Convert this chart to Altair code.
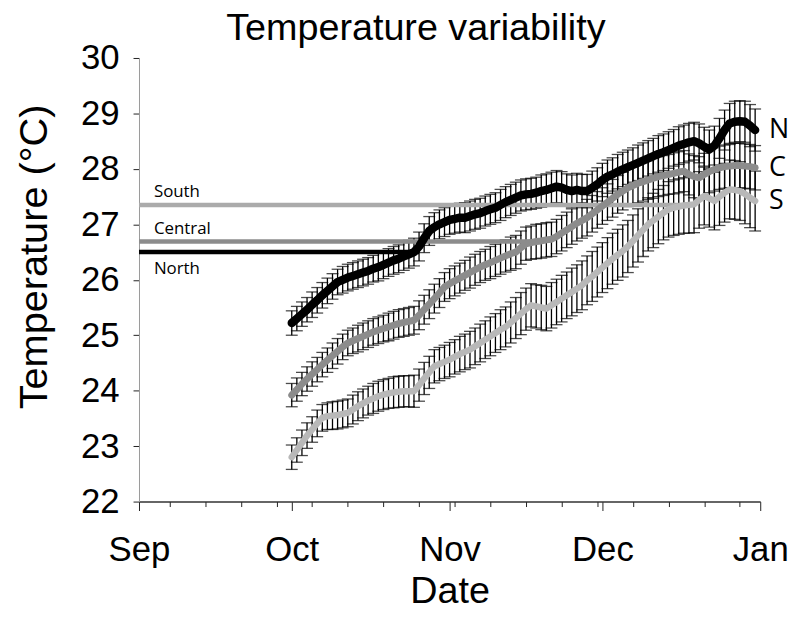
import altair as alt
import pandas as pd

# ---------------- data ----------------
dates = pd.date_range("2006-10-01", "2006-12-31", freq="D").strftime("%Y-%m-%d").tolist()

north_oct = [25.22, 25.30, 25.38, 25.46, 25.55, 25.63, 25.72, 25.80, 25.88, 25.96,
             26.00, 26.04, 26.07, 26.10, 26.13, 26.16, 26.20, 26.23, 26.27, 26.31,
             26.35, 26.38, 26.42, 26.46, 26.50, 26.60, 26.75, 26.88, 26.95, 27.00, 27.04]
north_nov = [27.08, 27.10, 27.12, 27.12, 27.15, 27.18, 27.20, 27.24, 27.27, 27.30,
             27.35, 27.40, 27.44, 27.48, 27.52, 27.54, 27.55, 27.57, 27.60, 27.62,
             27.65, 27.68, 27.66, 27.62, 27.60, 27.62, 27.60, 27.60, 27.66, 27.72]
north_dec = [27.80, 27.86, 27.90, 27.95, 27.99, 28.03, 28.07, 28.11, 28.15, 28.19,
             28.23, 28.27, 28.30, 28.34, 28.38, 28.42, 28.45, 28.48, 28.50, 28.46,
             28.40, 28.35, 28.42, 28.55, 28.70, 28.82, 28.85, 28.86, 28.85, 28.78, 28.70]

central_oct = [23.92, 24.02, 24.12, 24.21, 24.30, 24.38, 24.47, 24.55, 24.63, 24.71,
               24.79, 24.86, 24.90, 24.94, 24.98, 25.02, 25.06, 25.09, 25.12, 25.15,
               25.18, 25.21, 25.23, 25.25, 25.27, 25.36, 25.46, 25.56, 25.66, 25.76, 25.87]
central_nov = [25.93, 25.98, 26.03, 26.08, 26.13, 26.18, 26.23, 26.27, 26.31, 26.35,
               26.39, 26.43, 26.47, 26.50, 26.58, 26.65, 26.67, 26.69, 26.70, 26.72,
               26.73, 26.78, 26.84, 26.90, 26.96, 27.02, 27.07, 27.12, 27.19, 27.26]
central_dec = [27.33, 27.40, 27.47, 27.54, 27.60, 27.66, 27.70, 27.74, 27.77, 27.80,
               27.83, 27.86, 27.88, 27.90, 27.92, 27.94, 27.96, 27.90, 27.86, 27.84,
               27.90, 27.95, 27.99, 28.02, 28.04, 28.05, 28.06, 28.06, 28.05, 28.04, 28.02]

south_oct = [22.80, 22.93, 23.06, 23.19, 23.30, 23.41, 23.51, 23.54, 23.55, 23.56,
             23.58, 23.60, 23.66, 23.72, 23.77, 23.82, 23.86, 23.90, 23.93, 23.95,
             23.97, 23.98, 23.99, 23.99, 23.99, 24.10, 24.22, 24.33, 24.44, 24.48, 24.52]
south_nov = [24.56, 24.61, 24.66, 24.70, 24.74, 24.80, 24.86, 24.92, 24.98, 25.04,
             25.10, 25.15, 25.23, 25.31, 25.39, 25.47, 25.54, 25.52, 25.50, 25.48,
             25.54, 25.60, 25.66, 25.72, 25.78, 25.84, 25.90, 25.99, 26.06, 26.14]
south_dec = [26.22, 26.30, 26.38, 26.45, 26.52, 26.60, 26.70, 26.80, 26.90, 27.00,
             27.07, 27.14, 27.21, 27.27, 27.30, 27.32, 27.34, 27.35, 27.36, 27.44,
             27.51, 27.47, 27.42, 27.50, 27.57, 27.63, 27.62, 27.60, 27.55, 27.48, 27.42]

north_err = [0.22, 0.22, 0.22, 0.22, 0.23, 0.23, 0.23, 0.23, 0.23, 0.23, 0.24, 0.24, 0.24, 0.24, 0.24, 0.24,
             0.24, 0.25, 0.25, 0.25, 0.25, 0.25, 0.25, 0.25, 0.25, 0.26, 0.26, 0.26, 0.26, 0.26, 0.26,
             0.26, 0.26, 0.26, 0.27, 0.27, 0.27, 0.27, 0.27, 0.27, 0.27, 0.28, 0.28, 0.28, 0.28, 0.28,
             0.28, 0.28, 0.28, 0.29, 0.29, 0.29, 0.29, 0.29, 0.29, 0.29, 0.30, 0.30, 0.30, 0.30, 0.30,
             0.30, 0.30, 0.30, 0.31, 0.31, 0.31, 0.31, 0.32, 0.32, 0.32, 0.32, 0.33, 0.33, 0.33, 0.33,
             0.34, 0.34, 0.34, 0.34, 0.35, 0.35, 0.35, 0.35, 0.36, 0.36, 0.36, 0.37, 0.37, 0.37, 0.38, 0.38]
central_err = [0.21, 0.21, 0.21, 0.22, 0.22, 0.22, 0.22, 0.22, 0.23, 0.23, 0.23, 0.23, 0.23, 0.24, 0.24, 0.24,
               0.24, 0.24, 0.24, 0.25, 0.25, 0.25, 0.25, 0.25, 0.25, 0.26, 0.26, 0.26, 0.26, 0.26, 0.26,
               0.27, 0.27, 0.27, 0.27, 0.28, 0.28, 0.28, 0.28, 0.29, 0.29, 0.29, 0.29, 0.30, 0.30, 0.30,
               0.30, 0.30, 0.31, 0.31, 0.31, 0.31, 0.31, 0.32, 0.32, 0.32, 0.32, 0.32, 0.33, 0.33, 0.33,
               0.33, 0.33, 0.34, 0.34, 0.34, 0.34, 0.35, 0.35, 0.35, 0.35, 0.36, 0.36, 0.36, 0.36, 0.37,
               0.37, 0.37, 0.37, 0.38, 0.38, 0.38, 0.38, 0.39, 0.39, 0.39, 0.39, 0.40, 0.40, 0.40, 0.40, 0.40]
south_err = [0.22, 0.22, 0.23, 0.23, 0.23, 0.24, 0.24, 0.24, 0.25, 0.25, 0.25, 0.25, 0.26, 0.26, 0.26, 0.26,
             0.27, 0.27, 0.27, 0.27, 0.28, 0.28, 0.28, 0.28, 0.29, 0.29, 0.29, 0.29, 0.30, 0.30, 0.30,
             0.31, 0.31, 0.32, 0.32, 0.33, 0.33, 0.34, 0.34, 0.35, 0.35, 0.36, 0.36, 0.37, 0.37, 0.38,
             0.38, 0.39, 0.39, 0.40, 0.40, 0.41, 0.41, 0.42, 0.42, 0.43, 0.43, 0.44, 0.44, 0.45, 0.45,
             0.45, 0.46, 0.46, 0.46, 0.47, 0.47, 0.47, 0.48, 0.48, 0.48, 0.49, 0.49, 0.49, 0.50, 0.50,
             0.50, 0.50, 0.51, 0.51, 0.51, 0.52, 0.52, 0.52, 0.52, 0.53, 0.53, 0.53, 0.53, 0.54, 0.54, 0.54]

series_names = ["N", "C", "S"]
series_colors = ["#000000", "#8c8c8c", "#b8b8b8"]
series_values = [north_oct + north_nov + north_dec,
                 central_oct + central_nov + central_dec,
                 south_oct + south_nov + south_dec]
series_errors = [north_err, central_err, south_err]

threshold_names = ["South", "Central", "North"]
threshold_levels = [27.35, 26.69, 26.50]
threshold_start = "2006-09-01"
threshold_end = ["2006-12-17", "2006-11-19", "2006-10-26"]
threshold_colors = ["#ababab", "#8c8c8c", "#000000"]

month_ticks = [(2006, 9), (2006, 10), (2006, 11), (2006, 12), (2007, 1)]
week_ticks = [(2006, 9, 7), (2006, 9, 14), (2006, 9, 21), (2006, 9, 28),
              (2006, 10, 5), (2006, 10, 12), (2006, 10, 19), (2006, 10, 26),
              (2006, 11, 2), (2006, 11, 9), (2006, 11, 16), (2006, 11, 23), (2006, 11, 30),
              (2006, 12, 7), (2006, 12, 14), (2006, 12, 21), (2006, 12, 28)]
y_ticks = [22, 23, 24, 25, 26, 27, 28, 29, 30]

for v, e in zip(series_values, series_errors):
    assert len(v) == len(dates) == len(e), (len(v), len(e))

# ---------------- tables ----------------
rows = []
for name, vals, errs in zip(series_names, series_values, series_errors):
    for d, v, e in zip(dates, vals, errs):
        rows.append({"date": d, "series": name, "value": v,
                     "lo": round(v - e, 3), "hi": round(v + e, 3)})
df = pd.DataFrame(rows)

end_df = pd.DataFrame({"date": [dates[-1]] * 3, "series": series_names,
                       "value": [v[-1] for v in series_values]})

thr_df = pd.DataFrame({"name": threshold_names, "level": threshold_levels,
                       "start": [threshold_start] * 3, "end": threshold_end})

# ---------------- scales / axes ----------------
FONT = "Liberation Sans"
xscale = alt.Scale(type="utc",
                   domain=[alt.DateTime(year=2006, month=9, date=1, utc=True),
                           alt.DateTime(year=2007, month=1, date=1, utc=True)])
yscale = alt.Scale(domain=[22, 30], nice=False, zero=False)

month_axis = alt.Axis(orient="bottom",
                      values=[alt.DateTime(year=y, month=m, date=1, utc=True) for y, m in month_ticks],
                      labelExpr="utcFormat(datum.value, '%b')",
                      tickSize=9, tickColor="#222", domainColor="#333", domainWidth=1.5,
                      labelFont=FONT, labelFontSize=35, labelColor="black", labelPadding=22,
                      title="Date", titleFont=FONT, titleFontSize=38, titleFontWeight="normal",
                      titleColor="black", titlePadding=6, labelFlush=False)
week_axis = alt.Axis(orient="bottom",
                     values=[alt.DateTime(year=y, month=m, date=d, utc=True) for y, m, d in week_ticks],
                     labels=False, domain=False, tickSize=5, tickColor="#222", title=None)
y_axis = alt.Axis(values=y_ticks, tickSize=6, tickColor="#222", domainColor="#999",
                  labelFont=FONT, labelFontSize=35, labelColor="black", labelPadding=14,
                  title="Temperature (°C)", titleFont=FONT, titleFontSize=40,
                  titleFontWeight="normal", titleColor="black", titlePadding=26, titleY=200)

x_none = alt.X("date:T", scale=xscale, axis=None)


def Y(field):
    return alt.Y(field, scale=yscale, axis=y_axis)


# ---------------- layers ----------------
err_rules = alt.Chart(df).mark_rule(color="black", strokeWidth=1.3).encode(
    x=alt.X("date:T", scale=xscale, axis=month_axis),
    y=Y("lo:Q"),
    y2="hi:Q")
cap_lo = alt.Chart(df).mark_tick(orient="horizontal", size=12, thickness=1.3, color="black").encode(
    x=x_none, y=Y("lo:Q"))
cap_hi = alt.Chart(df).mark_tick(orient="horizontal", size=12, thickness=1.3, color="black").encode(
    x=x_none, y=Y("hi:Q"))

thr_color = alt.Color("name:N", scale=alt.Scale(domain=threshold_names, range=threshold_colors), legend=None)
thr_rules = alt.Chart(thr_df).mark_rule(strokeWidth=4.5).encode(
    x=alt.X("start:T", scale=xscale, axis=week_axis),
    x2="end:T",
    y=Y("level:Q"),
    color=thr_color)
thr_above = alt.Chart(thr_df).transform_filter("datum.name != 'North'").mark_text(
    align="left", baseline="middle", dx=15, dy=-13, font="Open Sans", fontSize=17, color="black").encode(
    x=alt.X("start:T", scale=xscale, axis=None), y=Y("level:Q"), text="name:N")
thr_below = alt.Chart(thr_df).transform_filter("datum.name == 'North'").mark_text(
    align="left", baseline="middle", dx=15, dy=17, font="Open Sans", fontSize=17, color="black").encode(
    x=alt.X("start:T", scale=xscale, axis=None), y=Y("level:Q"), text="name:N")

lines = []
for name, color, width in zip(reversed(series_names), reversed(series_colors), [6.5, 7, 8.5]):
    lines.append(alt.Chart(df).transform_filter(f"datum.series == '{name}'").mark_line(
        color=color, strokeWidth=width, strokeCap="round", strokeJoin="round").encode(
        x=x_none, y=Y("value:Q")))

end_labels = alt.Chart(end_df).mark_text(align="left", baseline="middle", dx=14,
                                          font="Open Sans", fontSize=27, color="black").encode(
    x=x_none, y=Y("value:Q"), text="series:N")

chart = alt.layer(err_rules, cap_lo, cap_hi, thr_rules, thr_above, thr_below, *lines, end_labels).resolve_axis(
    x="independent").properties(
    width=626, height=447,
    autosize="none",
    padding={"left": 132, "top": 48, "right": 30, "bottom": 120},
    title=alt.TitleParams("Temperature variability", font=FONT, fontSize=38, fontWeight="normal",
                          color="black", anchor="middle", dx=-34, offset=-7),
).configure_view(stroke=None).configure_axis(grid=False)

chart.save("out.html", embed_options={"renderer": "svg", "actions": False})
